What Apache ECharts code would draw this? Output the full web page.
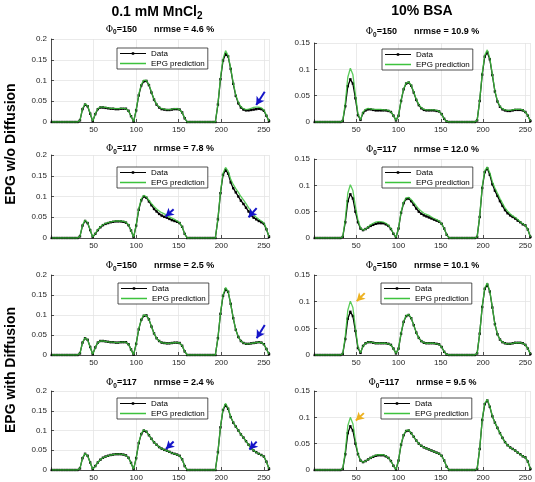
<!DOCTYPE html>
<html><head><meta charset="utf-8">
<script src="https://cdn.jsdelivr.net/npm/echarts@6/dist/echarts.min.js"></script>
<style>html,body{margin:0;padding:0;background:#fff}#c{width:535px;height:482px}</style>
</head><body><div id="c"></div>
<script>
// ---------- DATA ----------
const xs = [1,4,7,10,13,16,19,22,25,28,31,34,37,40,43,46,49,52,55,58,61,64,67,70,73,76,79,82,85,88,91,94,97,100,103,106,109,112,115,118,121,124,127,130,133,136,139,142,145,148,151,154,157,160,163,166,169,172,175,178,181,184,187,190,193,196,199,202,205,208,211,214,217,220,223,226,229,232,235,238,241,244,247,250,253,256];

const mncl150Data = [0,0,0,0,0,0,0,0,0,0,0,
 0.004,0.031,0.042,0.038,0.020,0.002,0.019,0.031,0.035,0.035,
 0.034,0.033,0.032,0.032,0.031,0.031,0.032,0.032,0.032,0.027,
 0.014,0.001,0.028,0.064,0.088,0.098,0.099,0.089,0.071,0.054,
 0.042,0.035,0.031,0.030,0.029,0.029,0.030,0.031,0.031,0.030,
 0.023,0.009,
 0,0,0,0,0,0,0,0,0,0,0,0,
 0.042,0.103,0.148,0.164,0.158,0.128,0.092,0.063,0.045,0.035,
 0.030,0.028,0.028,0.029,0.030,0.031,0.032,0.031,0.027,0.015,
 0.002];
const mncl150PredNoDiff = [0,0,0,0,0,0,0,0,0,0,0,
 0.004,0.032,0.044,0.039,0.021,0.002,0.020,0.032,0.036,0.036,
 0.035,0.034,0.033,0.033,0.032,0.032,0.033,0.033,0.032,0.027,
 0.014,0.001,0.029,0.066,0.090,0.101,0.100,0.090,0.072,0.055,
 0.043,0.036,0.032,0.031,0.030,0.030,0.031,0.032,0.032,0.030,
 0.023,0.009,
 0,0,0,0,0,0,0,0,0,0,0,0,
 0.043,0.106,0.152,0.172,0.160,0.130,0.094,0.065,0.047,0.037,
 0.032,0.030,0.031,0.033,0.035,0.036,0.036,0.034,0.029,0.016,
 0.002];
const mncl150PredDiff = [0,0,0,0,0,0,0,0,0,0,0,
 0.004,0.031,0.043,0.038,0.020,0.002,0.019,0.031,0.035,0.035,
 0.034,0.033,0.032,0.032,0.031,0.031,0.032,0.032,0.032,0.027,
 0.014,0.001,0.028,0.065,0.089,0.100,0.099,0.089,0.071,0.054,
 0.042,0.035,0.031,0.030,0.029,0.029,0.030,0.031,0.031,0.030,
 0.023,0.009,
 0,0,0,0,0,0,0,0,0,0,0,0,
 0.042,0.104,0.150,0.169,0.159,0.128,0.092,0.063,0.045,0.035,
 0.030,0.028,0.028,0.029,0.030,0.031,0.032,0.031,0.027,0.015,
 0.002];

const mncl117Data = [0,0,0,0,0,0,0,0,0,0,0,
 0.004,0.030,0.041,0.036,0.019,0.002,0.010,0.019,0.026,0.031,
 0.034,0.036,0.038,0.039,0.040,0.040,0.040,0.039,0.037,0.031,
 0.018,0.002,0.030,0.068,0.091,0.100,0.097,0.088,0.079,0.070,
 0.064,0.058,0.054,0.051,0.049,0.046,0.043,0.041,0.039,0.036,
 0.027,0.010,
 0,0,0,0,0,0,0,0,0,0,0,0,
 0.045,0.108,0.152,0.164,0.155,0.134,0.120,0.110,0.100,0.090,
 0.082,0.073,0.064,0.055,0.049,0.045,0.041,0.038,0.034,0.021,
 0.003];
const mncl117PredNoDiff = [0,0,0,0,0,0,0,0,0,0,0,
 0.004,0.031,0.043,0.037,0.020,0.002,0.011,0.020,0.027,0.032,
 0.035,0.037,0.039,0.040,0.041,0.041,0.041,0.040,0.038,0.032,
 0.018,0.002,0.031,0.070,0.094,0.103,0.099,0.091,0.083,0.076,
 0.070,0.065,0.061,0.058,0.055,0.051,0.048,0.045,0.041,0.037,
 0.027,0.010,
 0,0,0,0,0,0,0,0,0,0,0,0,
 0.046,0.110,0.156,0.170,0.161,0.142,0.129,0.119,0.110,0.100,
 0.092,0.083,0.073,0.064,0.056,0.050,0.045,0.041,0.036,0.022,
 0.003];
const mncl117PredDiff = [0,0,0,0,0,0,0,0,0,0,0,
 0.004,0.030,0.042,0.036,0.019,0.002,0.010,0.019,0.026,0.031,
 0.034,0.036,0.038,0.039,0.040,0.040,0.040,0.039,0.037,0.031,
 0.018,0.002,0.030,0.069,0.092,0.102,0.098,0.088,0.079,0.070,
 0.064,0.058,0.054,0.051,0.049,0.046,0.043,0.041,0.039,0.036,
 0.027,0.010,
 0,0,0,0,0,0,0,0,0,0,0,0,
 0.045,0.109,0.154,0.169,0.157,0.135,0.121,0.110,0.100,0.090,
 0.082,0.073,0.064,0.055,0.049,0.045,0.041,0.038,0.034,0.021,
 0.003];

const bsa150Data = [0,0,0,0,0,0,0,0,0,0,0,
 0.002,0.030,0.068,0.081,0.073,0.045,0.013,0.004,0.017,0.022,
 0.024,0.024,0.023,0.022,0.022,0.022,0.022,0.022,0.021,0.019,
 0.012,0.003,0.012,0.040,0.062,0.073,0.075,0.069,0.056,0.042,
 0.032,0.026,0.023,0.022,0.022,0.022,0.022,0.021,0.020,0.015,
 0.006,0.001,
 0,0,0,0,0,0,0,0,0,0,0,0.003,
 0.040,0.090,0.124,0.132,0.119,0.089,0.058,0.039,0.029,0.024,
 0.022,0.021,0.021,0.022,0.023,0.023,0.023,0.022,0.019,0.012,
 0.002];
const bsa150PredNoDiff = [0,0,0,0,0,0,0,0,0,0,0,
 0.002,0.036,0.085,0.102,0.090,0.052,0.015,0.004,0.019,0.024,
 0.026,0.025,0.024,0.024,0.024,0.024,0.023,0.023,0.022,0.019,
 0.012,0.003,0.012,0.041,0.063,0.074,0.076,0.070,0.057,0.043,
 0.033,0.027,0.024,0.023,0.023,0.023,0.023,0.022,0.020,0.015,
 0.006,0.001,
 0,0,0,0,0,0,0,0,0,0,0,0.003,
 0.041,0.092,0.127,0.137,0.121,0.090,0.059,0.040,0.030,0.025,
 0.023,0.022,0.022,0.023,0.024,0.024,0.024,0.023,0.019,0.012,
 0.002];
const bsa150PredDiff = [0,0,0,0,0,0,0,0,0,0,0,
 0.002,0.035,0.084,0.101,0.089,0.051,0.015,0.004,0.017,0.022,
 0.024,0.024,0.023,0.022,0.022,0.022,0.022,0.022,0.021,0.019,
 0.012,0.003,0.012,0.041,0.063,0.074,0.076,0.069,0.056,0.042,
 0.032,0.026,0.023,0.022,0.022,0.022,0.022,0.021,0.020,0.015,
 0.006,0.001,
 0,0,0,0,0,0,0,0,0,0,0,0.003,
 0.040,0.091,0.126,0.135,0.120,0.089,0.058,0.039,0.029,0.024,
 0.022,0.021,0.021,0.022,0.023,0.023,0.023,0.022,0.019,0.012,
 0.002];

const bsa117Data = [0,0,0,0,0,0,0,0,0,0,0,
 0.002,0.030,0.070,0.083,0.075,0.050,0.030,0.018,0.015,0.017,
 0.020,0.023,0.025,0.027,0.028,0.028,0.028,0.026,0.023,0.017,
 0.008,0.001,0.018,0.048,0.066,0.074,0.075,0.070,0.063,0.056,
 0.050,0.046,0.043,0.041,0.039,0.037,0.035,0.033,0.031,0.027,
 0.018,0.006,
 0,0,0,0,0,0,0,0,0,0,0,0.002,
 0.040,0.095,0.125,0.132,0.120,0.102,0.090,0.080,0.070,0.061,
 0.053,0.047,0.043,0.040,0.037,0.033,0.030,0.026,0.024,0.016,
 0.002];
const bsa117PredNoDiff = [0,0,0,0,0,0,0,0,0,0,0,
 0.002,0.035,0.085,0.101,0.090,0.060,0.034,0.019,0.015,0.017,
 0.021,0.025,0.028,0.030,0.031,0.031,0.030,0.028,0.024,0.018,
 0.009,0.001,0.019,0.049,0.068,0.076,0.077,0.073,0.067,0.061,
 0.055,0.051,0.047,0.045,0.043,0.040,0.037,0.035,0.032,0.027,
 0.018,0.006,
 0,0,0,0,0,0,0,0,0,0,0,0.002,
 0.041,0.097,0.128,0.135,0.124,0.107,0.095,0.085,0.075,0.066,
 0.057,0.051,0.046,0.042,0.039,0.035,0.031,0.027,0.024,0.016,
 0.002];
const bsa117PredDiff = [0,0,0,0,0,0,0,0,0,0,0,
 0.002,0.035,0.084,0.100,0.088,0.056,0.031,0.018,0.015,0.017,
 0.020,0.023,0.026,0.028,0.029,0.029,0.029,0.027,0.023,0.017,
 0.008,0.001,0.018,0.049,0.067,0.075,0.076,0.070,0.063,0.056,
 0.050,0.046,0.043,0.041,0.039,0.037,0.035,0.033,0.031,0.027,
 0.018,0.006,
 0,0,0,0,0,0,0,0,0,0,0,0.002,
 0.040,0.096,0.127,0.134,0.121,0.102,0.090,0.080,0.070,0.061,
 0.053,0.047,0.043,0.040,0.037,0.033,0.030,0.026,0.024,0.016,
 0.002];

const colTitles = ['0.1 mM MnCl', '10% BSA'];
const rowTitles = ['EPG w/o Diffusion', 'EPG with Diffusion'];
const phiValues = [['150','150'],['117','117'],['150','150'],['117','117']];
const nrmseValues = [['4.6','10.9'],['7.8','12.0'],['2.5','10.1'],['2.4','9.5']];
const yMaxByCol = [0.2, 0.15];
const xTicks = [50, 100, 150, 200, 250];
const legendNames = ['Data', 'EPG prediction'];

// arrow annotations in data units: [xFrom, yFrom, xTo, yTo]
const blueArrows = {
  '0-0': [[251, 0.073, 241, 0.041]],
  '1-0': [[144, 0.069, 134.5, 0.052], [241.5, 0.072, 232, 0.050]],
  '2-0': [[251, 0.075, 241.5, 0.042]],
  '3-0': [[144, 0.072, 135, 0.053], [241.5, 0.072, 233, 0.052]]
};
const orangeArrows = {
  '2-1': [[60, 0.116, 50.5, 0.101]],
  '3-1': [[59, 0.108, 49.5, 0.094]]
};

const panelSeries = [
  [[mncl150Data, mncl150PredNoDiff], [bsa150Data, bsa150PredNoDiff]],
  [[mncl117Data, mncl117PredNoDiff], [bsa117Data, bsa117PredNoDiff]],
  [[mncl150Data, mncl150PredDiff],   [bsa150Data, bsa150PredDiff]],
  [[mncl117Data, mncl117PredDiff],   [bsa117Data, bsa117PredDiff]]
];

// ---------- LAYOUT ----------
const gridBoxes = [
  [[51, 39, 218, 83], [314, 43, 217, 79]],
  [[51, 155, 218, 83], [314, 159, 217, 79]],
  [[51, 275, 218, 80], [314, 275, 217, 80]],
  [[51, 391, 218, 79], [314, 391, 217, 79]]
];
const titleY = [[29.5, 32], [149, 150], [266, 266], [383, 383]];
const legendPos = [[[117, 48], [382, 49]], [[117, 167], [382, 167]], [[118, 283], [381, 283]], [[117, 398], [381, 398]]];

const FONT = '"Liberation Sans", Arial, Helvetica, sans-serif';
const AX = '#262626';
const GREEN = '#3dc23d';
const BLUE = '#1414c8';
const ORANGE = '#EDB120';

const dataIcon = 'path://M0,0h0.01v0.01h-0.01z M0,3.5h26v1h-26z M11.8,2.8h2.4v2.4h-2.4z M0,8h0.01v-0.01h-0.01z';
const predIcon = 'path://M0,0h0.01v0.01h-0.01z M0,3.2h26v1.6h-26z M0,8h0.01v-0.01h-0.01z';

const option = { animation: false, grid: [], xAxis: [], yAxis: [], series: [], legend: [], graphic: [] };

let k = 0;
for (let r = 0; r < 4; r++) {
  for (let c = 0; c < 2; c++) {
    const [l, t, w, h] = gridBoxes[r][c];
    option.grid.push({ left: l, top: t, width: w, height: h });
    option.xAxis.push({
      type: 'value', gridIndex: k, min: 0, max: 256, interval: 50,
      axisLine: { show: true, onZero: false, lineStyle: { color: AX, width: 0.8 } },
      axisTick: { show: true, inside: true, length: 3, lineStyle: { color: AX, width: 0.8 } },
      axisLabel: { fontSize: 8, color: AX, margin: 4, fontFamily: FONT,
        formatter: v => xTicks.includes(v) ? String(v) : '' },
      splitLine: { show: true, lineStyle: { color: '#e4e4e4', width: 0.8 } }
    });
    option.yAxis.push({
      type: 'value', gridIndex: k, min: 0, max: yMaxByCol[c], interval: 0.05,
      axisLine: { show: true, onZero: false, lineStyle: { color: AX, width: 0.8 } },
      axisTick: { show: true, inside: true, length: 3, lineStyle: { color: AX, width: 0.8 } },
      axisLabel: { fontSize: 8, color: AX, margin: 4, fontFamily: FONT,
        formatter: v => String(Math.round(v * 100) / 100) },
      splitLine: { show: true, lineStyle: { color: '#e4e4e4', width: 0.8 } }
    });
    const [d, p] = panelSeries[r][c];
    const key = r + '-' + c;
    const arrowsB = blueArrows[key] || [];
    const arrowsO = orangeArrows[key] || [];
    const mlData = [];
    arrowsB.forEach(a => mlData.push([{ coord: [a[0], a[1]], lineStyle: { color: BLUE } }, { coord: [a[2], a[3]], itemStyle: { color: BLUE } }]));
    arrowsO.forEach(a => mlData.push([{ coord: [a[0], a[1]], lineStyle: { color: ORANGE } }, { coord: [a[2], a[3]], itemStyle: { color: ORANGE } }]));

    option.series.push({
      name: 'Data', type: 'line', xAxisIndex: k, yAxisIndex: k,
      data: xs.map((x, i) => [x, d[i]]), symbol: 'rect', symbolSize: 2.4,
      lineStyle: { color: '#000', width: 1.3 }, itemStyle: { color: '#000' }, z: 2, silent: true,
      markLine: mlData.length ? {
        silent: true, symbol: ['none', 'arrow'], symbolSize: [7, 8], z: 5,
        label: { show: false }, lineStyle: { width: 2, type: 'solid' },
        emphasis: { disabled: true }, data: mlData
      } : undefined
    });
    option.series.push({
      name: 'EPG prediction', type: 'line', xAxisIndex: k, yAxisIndex: k,
      data: xs.map((x, i) => [x, p[i]]), symbol: 'none', showSymbol: false,
      lineStyle: { color: GREEN, width: 1.3, opacity: 0.85 }, itemStyle: { color: GREEN }, z: 3, silent: true
    });
    option.legend.push({
      orient: 'vertical', left: legendPos[r][c][0], top: legendPos[r][c][1],
      itemWidth: 26, itemHeight: 8, itemGap: 1, padding: [1, 3, 1, 3],
      backgroundColor: '#fff', borderColor: AX, borderWidth: 0.8, selectedMode: false,
      textStyle: { fontSize: 8, color: '#000', fontFamily: FONT, lineHeight: 9 },
      data: [{ name: legendNames[0], icon: dataIcon }, { name: legendNames[1], icon: predIcon }]
    });

    // panel title
    const cx = l + w / 2;
    option.graphic.push({
      type: 'text', x: cx, y: titleY[r][c],
      style: {
        text: '{p|Φ}{s|0}{a|=' + phiValues[r][c] + '}{n|nrmse = ' + nrmseValues[r][c] + ' %}',
        align: 'center', verticalAlign: 'middle', textAlign: 'center', textVerticalAlign: 'middle',
        fill: '#000',
        rich: {
          p: { fontFamily: '"DejaVu Serif", serif', fontSize: 9, fill: '#000' },
          s: { fontFamily: FONT, fontSize: 6.5, fontWeight: 'bold', padding: [6, 0, 0, 0], fill: '#000' },
          a: { fontFamily: FONT, fontSize: 9, fontWeight: 'bold', fill: '#000' },
          n: { fontFamily: FONT, fontSize: 9, fontWeight: 'bold', padding: [0, 0, 0, 17], fill: '#000' }
        }
      }
    });
    k++;
  }
}

// column titles
option.graphic.push({
  type: 'text', x: 157, y: 12,
  style: {
    text: '{a|' + colTitles[0] + '}{s|2}', align: 'center', verticalAlign: 'middle',
    textAlign: 'center', textVerticalAlign: 'middle', fill: '#000',
    rich: {
      a: { fontFamily: FONT, fontSize: 14, fontWeight: 'bold', fill: '#000' },
      s: { fontFamily: FONT, fontSize: 10, fontWeight: 'bold', padding: [9, 0, 0, 0], fill: '#000' }
    }
  }
});
option.graphic.push({
  type: 'text', x: 422, y: 11.5,
  style: {
    text: colTitles[1], align: 'center', verticalAlign: 'middle',
    textAlign: 'center', textVerticalAlign: 'middle', fill: '#000',
    font: 'bold 14px ' + FONT
  }
});
// row titles
const rowCY = [144, 370];
rowTitles.forEach((t, i) => {
  option.graphic.push({
    type: 'text', x: 11, y: rowCY[i], rotation: Math.PI / 2,
    style: {
      text: t, x: 0, y: 0, align: 'center', verticalAlign: 'middle',
      textAlign: 'center', textVerticalAlign: 'middle', fill: '#000',
      font: 'bold 14px ' + FONT
    }
  });
});

const chart = echarts.init(document.getElementById('c'), null, { renderer: 'canvas' });
chart.setOption(option);
</script>
</body></html>
